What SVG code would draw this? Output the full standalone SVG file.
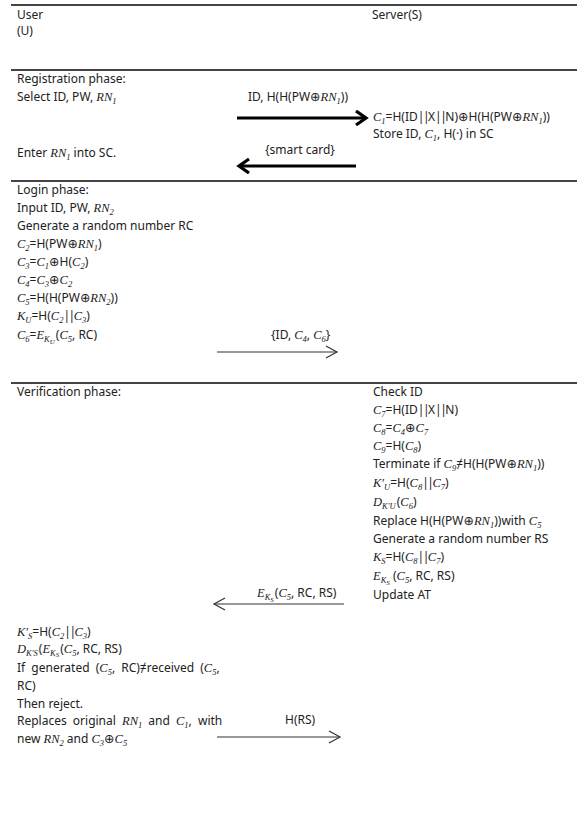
<svg xmlns="http://www.w3.org/2000/svg" width="577" height="831" viewBox="0 0 577 831">
<style>
text{font-family:"Noto Sans","Open Sans","DejaVu Sans",sans-serif;font-size:12px;fill:#222}
.m{font-family:"Liberation Serif",serif;font-style:italic;font-size:12.5px}
.sb{font-family:"Liberation Serif",serif;font-style:italic;font-size:8.5px}
.ss{font-family:"Liberation Serif",serif;font-style:italic;font-size:7px}
.o{font-family:"DejaVu Sans",sans-serif;font-size:12.5px}
.p{letter-spacing:-1.5px}
.rule{stroke:#444;stroke-width:2}
.thick{stroke:#000;stroke-width:3.2;fill:none}
.thin{stroke:#333;stroke-width:1.2;fill:none}
</style>
<defs>
<marker id="hThick" markerUnits="userSpaceOnUse" markerWidth="16" markerHeight="18" refX="12" refY="8" orient="auto" viewBox="0 0 16 18">
<path d="M2,1 L12,8 L2,15" fill="none" stroke="#000" stroke-width="3.2"/>
</marker>
<marker id="hThin" markerUnits="userSpaceOnUse" markerWidth="14" markerHeight="14" refX="12" refY="7" orient="auto" viewBox="0 0 14 14">
<path d="M1,1 L12,7 L1,13" fill="none" stroke="#333" stroke-width="1.2"/>
</marker>
</defs>
<rect width="577" height="831" fill="#fff"/>

<g id="rules">
<line class="rule" x1="11" y1="5" x2="577" y2="5"/>
<line class="rule" x1="11" y1="70" x2="577" y2="70"/>
<line class="rule" x1="11" y1="181" x2="577" y2="181"/>
<line class="rule" x1="11" y1="383" x2="577" y2="383"/>
</g>

<g id="header-user">
<text x="17" y="19">User</text>
<text x="17" y="35">(U)</text>
</g>
<g id="header-server">
<text x="372" y="19">Server(S)</text>
</g>

<g id="registration-user">
<text x="17" y="83">Registration phase:</text>
<text x="17" y="101">Select ID, PW,  <tspan class="m">RN</tspan><tspan class="sb" dy="3">1</tspan></text>
<text x="17" y="157">Enter <tspan class="m">RN</tspan><tspan class="sb" dy="3">1</tspan><tspan dy="-3">  into SC.</tspan></text>
</g>
<g id="registration-server">
<text x="373" y="121"><tspan class="m">C</tspan><tspan class="sb" dy="3">1</tspan><tspan dy="-3">=H(ID</tspan><tspan class="p">||</tspan><tspan>X</tspan><tspan class="p">||</tspan><tspan>N)</tspan><tspan class="o">⊕</tspan><tspan>H(H(PW</tspan><tspan class="o">⊕</tspan><tspan class="m">RN</tspan><tspan class="sb" dy="3">1</tspan><tspan dy="-3">))</tspan></text>
<text x="373" y="138">Store ID, <tspan class="m">C</tspan><tspan class="sb" dy="3">1</tspan><tspan dy="-3">,  H(·)  in SC</tspan></text>
</g>

<g id="login-user">
<text x="17" y="194">Login phase:</text>
<text x="17" y="212">Input ID, PW,  <tspan class="m">RN</tspan><tspan class="sb" dy="3">2</tspan></text>
<text x="17" y="230">Generate a random number RC</text>
<text x="17" y="248"><tspan class="m">C</tspan><tspan class="sb" dy="3">2</tspan><tspan dy="-3">=H(PW</tspan><tspan class="o">⊕</tspan><tspan class="m">RN</tspan><tspan class="sb" dy="3">1</tspan><tspan dy="-3">)</tspan></text>
<text x="17" y="266"><tspan class="m">C</tspan><tspan class="sb" dy="3">3</tspan><tspan dy="-3">=</tspan><tspan class="m">C</tspan><tspan class="sb" dy="3">1</tspan><tspan class="o" dy="-3">⊕</tspan><tspan>H(</tspan><tspan class="m">C</tspan><tspan class="sb" dy="3">2</tspan><tspan dy="-3">)</tspan></text>
<text x="17" y="284"><tspan class="m">C</tspan><tspan class="sb" dy="3">4</tspan><tspan dy="-3">=</tspan><tspan class="m">C</tspan><tspan class="sb" dy="3">3</tspan><tspan class="o" dy="-3">⊕</tspan><tspan class="m">C</tspan><tspan class="sb" dy="3">2</tspan></text>
<text x="17" y="302"><tspan class="m">C</tspan><tspan class="sb" dy="3">5</tspan><tspan dy="-3">=H(H(PW</tspan><tspan class="o">⊕</tspan><tspan class="m">RN</tspan><tspan class="sb" dy="3">2</tspan><tspan dy="-3">))</tspan></text>
<text x="17" y="320"><tspan class="m">K</tspan><tspan class="sb" dy="3">U</tspan><tspan dy="-3">=H(</tspan><tspan class="m">C</tspan><tspan class="sb" dy="3">2</tspan><tspan class="p" dy="-3">||</tspan><tspan class="m">C</tspan><tspan class="sb" dy="3">3</tspan><tspan dy="-3">)</tspan></text>
<text x="17" y="339"><tspan class="m">C</tspan><tspan class="sb" dy="3">6</tspan><tspan dy="-3">=</tspan><tspan class="m">E</tspan><tspan class="sb" dy="3">K</tspan><tspan class="ss" dy="2">U</tspan><tspan dy="-5" dx="1">(</tspan><tspan class="m">C</tspan><tspan class="sb" dy="3">5</tspan><tspan dy="-3">, RC)</tspan></text>
</g>

<g id="verification-user-title">
<text x="17" y="396">Verification phase:</text>
</g>

<g id="verification-server">
<text x="373" y="396">Check ID</text>
<text x="373" y="414"><tspan class="m">C</tspan><tspan class="sb" dy="3">7</tspan><tspan dy="-3">=H(ID</tspan><tspan class="p">||</tspan><tspan>X</tspan><tspan class="p">||</tspan><tspan>N)</tspan></text>
<text x="373" y="432"><tspan class="m">C</tspan><tspan class="sb" dy="3">8</tspan><tspan dy="-3">=</tspan><tspan class="m">C</tspan><tspan class="sb" dy="3">4</tspan><tspan class="o" dy="-3">⊕</tspan><tspan class="m">C</tspan><tspan class="sb" dy="3">7</tspan></text>
<text x="373" y="450"><tspan class="m">C</tspan><tspan class="sb" dy="3">9</tspan><tspan dy="-3">=H(</tspan><tspan class="m">C</tspan><tspan class="sb" dy="3">8</tspan><tspan dy="-3">)</tspan></text>
<text x="373" y="468">Terminate if <tspan class="m">C</tspan><tspan class="sb" dy="3">9</tspan><tspan dy="-3">≠H(H(PW</tspan><tspan class="o">⊕</tspan><tspan class="m">RN</tspan><tspan class="sb" dy="3">1</tspan><tspan dy="-3">))</tspan></text>
<text x="373" y="487"><tspan class="m">K′</tspan><tspan class="sb" dy="3">U</tspan><tspan dy="-3">=H(</tspan><tspan class="m">C</tspan><tspan class="sb" dy="3">8</tspan><tspan class="p" dy="-3">||</tspan><tspan class="m">C</tspan><tspan class="sb" dy="3">7</tspan><tspan dy="-3">)</tspan></text>
<text x="373" y="506"><tspan class="m">D</tspan><tspan class="sb" dy="3">K′U</tspan><tspan dy="-3" dx="1">(</tspan><tspan class="m">C</tspan><tspan class="sb" dy="3">6</tspan><tspan dy="-3">)</tspan></text>
<text x="373" y="525">Replace H(H(PW<tspan class="o">⊕</tspan><tspan class="m">RN</tspan><tspan class="sb" dy="3">1</tspan><tspan dy="-3">))with </tspan><tspan class="m">C</tspan><tspan class="sb" dy="3">5</tspan></text>
<text x="373" y="543">Generate a random number RS</text>
<text x="373" y="561"><tspan class="m">K</tspan><tspan class="sb" dy="3">S</tspan><tspan dy="-3">=H(</tspan><tspan class="m">C</tspan><tspan class="sb" dy="3">8</tspan><tspan class="p" dy="-3">||</tspan><tspan class="m">C</tspan><tspan class="sb" dy="3">7</tspan><tspan dy="-3">)</tspan></text>
<text x="373" y="580"><tspan class="m">E</tspan><tspan class="sb" dy="3">K</tspan><tspan class="ss" dy="2">S</tspan><tspan dy="-5"> (</tspan><tspan class="m">C</tspan><tspan class="sb" dy="3">5</tspan><tspan dy="-3">,  RC, RS)</tspan></text>
<text x="373" y="599">Update AT</text>
</g>

<g id="verification-user">
<text x="17" y="636"><tspan class="m">K′</tspan><tspan class="sb" dy="3">S</tspan><tspan dy="-3">=H(</tspan><tspan class="m">C</tspan><tspan class="sb" dy="3">2</tspan><tspan class="p" dy="-3">||</tspan><tspan class="m">C</tspan><tspan class="sb" dy="3">3</tspan><tspan dy="-3">)</tspan></text>
<text x="17" y="653"><tspan class="m">D</tspan><tspan class="sb" dy="2.5">K′S</tspan><tspan dy="-2.5" dx="1">(</tspan><tspan class="m">E</tspan><tspan class="sb" dy="2.5">K</tspan><tspan class="ss" dy="1.5">S</tspan><tspan dy="-4" dx="1">(</tspan><tspan class="m">C</tspan><tspan class="sb" dy="2.5">5</tspan><tspan dy="-2.5">,  RC, RS)</tspan></text>
<text x="17" y="672" word-spacing="3">If generated (<tspan class="m">C</tspan><tspan class="sb" dy="3">5</tspan><tspan dy="-3">, RC)≠received (</tspan><tspan class="m">C</tspan><tspan class="sb" dy="3">5</tspan><tspan dy="-3">,</tspan></text>
<text x="17" y="690">RC)</text>
<text x="17" y="708">Then reject.</text>
<text x="17" y="725" word-spacing="3">Replaces original <tspan class="m">RN</tspan><tspan class="sb" dy="3">1</tspan><tspan dy="-3"> and </tspan><tspan class="m">C</tspan><tspan class="sb" dy="3">1</tspan><tspan dy="-3">, with</tspan></text>
<text x="17" y="743">new <tspan class="m">RN</tspan><tspan class="sb" dy="3">2</tspan><tspan dy="-3"> and </tspan><tspan class="m">C</tspan><tspan class="sb" dy="3">3</tspan><tspan class="o" dy="-3">⊕</tspan><tspan class="m">C</tspan><tspan class="sb" dy="3">5</tspan></text>
</g>

<g id="connectors">
<line class="thick" x1="237" y1="118" x2="366" y2="118" marker-end="url(#hThick)"/>
<line class="thick" x1="356" y1="166" x2="239" y2="166" marker-end="url(#hThick)"/>
<line class="thin" x1="217" y1="352" x2="337" y2="352" marker-end="url(#hThin)"/>
<line class="thin" x1="344" y1="604" x2="214" y2="604" marker-end="url(#hThin)"/>
<line class="thin" x1="217" y1="737" x2="340" y2="737" marker-end="url(#hThin)"/>
</g>

<g id="connector-labels">
<text x="248" y="101">ID, H(H(PW<tspan class="o">⊕</tspan><tspan class="m">RN</tspan><tspan class="sb" dy="3">1</tspan><tspan dy="-3">))</tspan></text>
<text x="265" y="154">{smart card}</text>
<text x="271" y="339">{ID,  <tspan class="m">C</tspan><tspan class="sb" dy="3">4</tspan><tspan dy="-3">,  </tspan><tspan class="m">C</tspan><tspan class="sb" dy="3">6</tspan><tspan dy="-3">}</tspan></text>
<text x="257" y="597"><tspan class="m">E</tspan><tspan class="sb" dy="3">K</tspan><tspan class="ss" dy="2">S</tspan><tspan dy="-5" dx="1">(</tspan><tspan class="m">C</tspan><tspan class="sb" dy="3">5</tspan><tspan dy="-3">,  RC, RS)</tspan></text>
<text x="285" y="724">H(RS)</text>
</g>
</svg>
